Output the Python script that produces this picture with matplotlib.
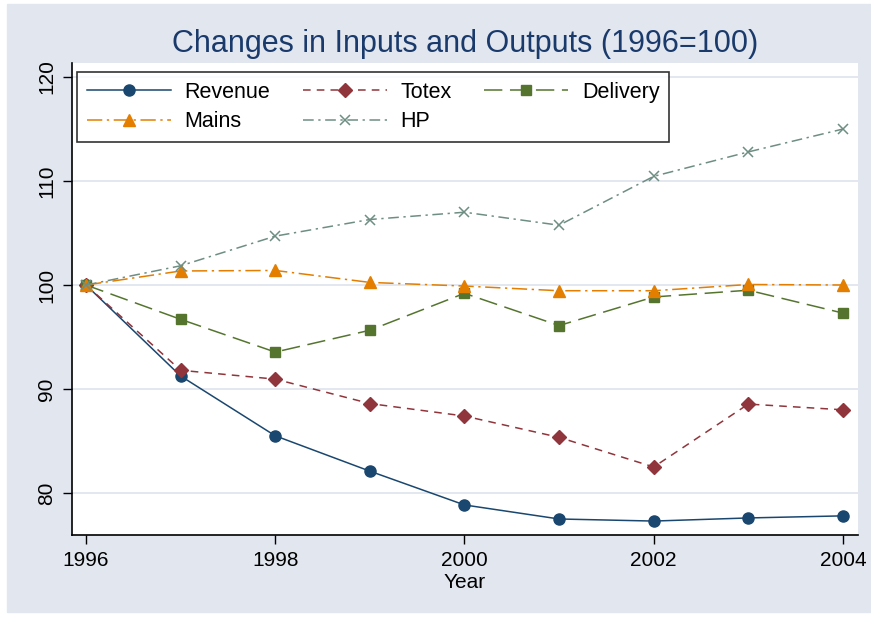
import matplotlib.pyplot as plt
from matplotlib.patches import Rectangle

plt.rcParams['font.family'] = ['Liberation Sans', 'DejaVu Sans']

years = [1996, 1997, 1998, 1999, 2000, 2001, 2002, 2003, 2004]
revenue = [100, 91.25, 85.5, 82.1, 78.85, 77.5, 77.3, 77.6, 77.8]
totex = [100, 91.8, 90.95, 88.6, 87.4, 85.35, 82.5, 88.55, 88.0]
delivery = [100, 96.7, 93.55, 95.65, 99.2, 96.1, 98.85, 99.5, 97.3]
mains = [100, 101.35, 101.4, 100.25, 99.9, 99.45, 99.45, 100.05, 100.0]
hp = [100, 101.85, 104.7, 106.3, 107.0, 105.75, 110.45, 112.8, 115.0]

bg = '#E1E6EF'

fig = plt.figure(figsize=(8.71, 6.17), dpi=100, facecolor='white')
fig.patches.append(Rectangle((7/871, 5/617), 1 - 7/871, 1 - 9/617,
                             transform=fig.transFigure, color=bg, zorder=-5))
ax = fig.add_axes([72/871, 82/617, 786/871, 472/617])
ax.set_facecolor('white')

l1, = ax.plot(years, revenue, color='#1A476F', lw=1.1, marker='o', ms=8, label='Revenue')
l2, = ax.plot(years, totex, color='#90353B', lw=1.1, ls=(0, (5, 4)), marker='D', ms=7, label='Totex')
l3, = ax.plot(years, delivery, color='#55752F', lw=1.1, ls=(0, (12, 5)), marker='s', ms=7.5, label='Delivery')
l4, = ax.plot(years, mains, color='#E37E00', lw=1.1, ls=(0, (10, 3, 1.5, 3)), marker='^', ms=8.5, label='Mains')
l5, = ax.plot(years, hp, color='#6E8E84', lw=1.1, ls=(0, (7, 3, 1.5, 3)), marker='x', ms=7, mew=1.1, label='HP')

ax.set_xlim(1995.852, 2004.159)
ax.set_ylim(75.96, 121.35)
ax.set_xticks([1996, 1998, 2000, 2002, 2004])
ax.set_yticks([80, 90, 100, 110, 120])
ax.set_yticklabels(['80', '90', '100', '110', '120'], rotation=90, va='center')
ax.tick_params(direction='out', length=6.5, width=1, labelsize=15, pad=5)
ax.yaxis.grid(True, color=bg, lw=1.3)
ax.set_axisbelow(True)
for s in ['top', 'right']:
    ax.spines[s].set_visible(False)
ax.spines['left'].set_linewidth(1.2)
ax.spines['bottom'].set_linewidth(1.2)

ax.set_xlabel('Year', fontsize=15, labelpad=2)
fig.text(0.534, 0.928, 'Changes in Inputs and Outputs (1996=100)', ha='center', va='center',
         fontsize=22, color='#1A3A6B')

# row-wise order like the original legend
handles = [l1, l4, l2, l5, l3]
leg = ax.legend(handles, [h.get_label() for h in handles], ncol=3, loc='upper left',
                bbox_to_anchor=(5/786, 1 - 9/472), borderaxespad=0, fontsize=15.5,
                handlelength=3.9, handletextpad=0.65, columnspacing=1.5, labelspacing=0.4,
                frameon=True, fancybox=False, edgecolor='black', borderpad=0.45)
leg.get_frame().set_linewidth(1.2)

fig.savefig('out.png', dpi=100, facecolor='white')
